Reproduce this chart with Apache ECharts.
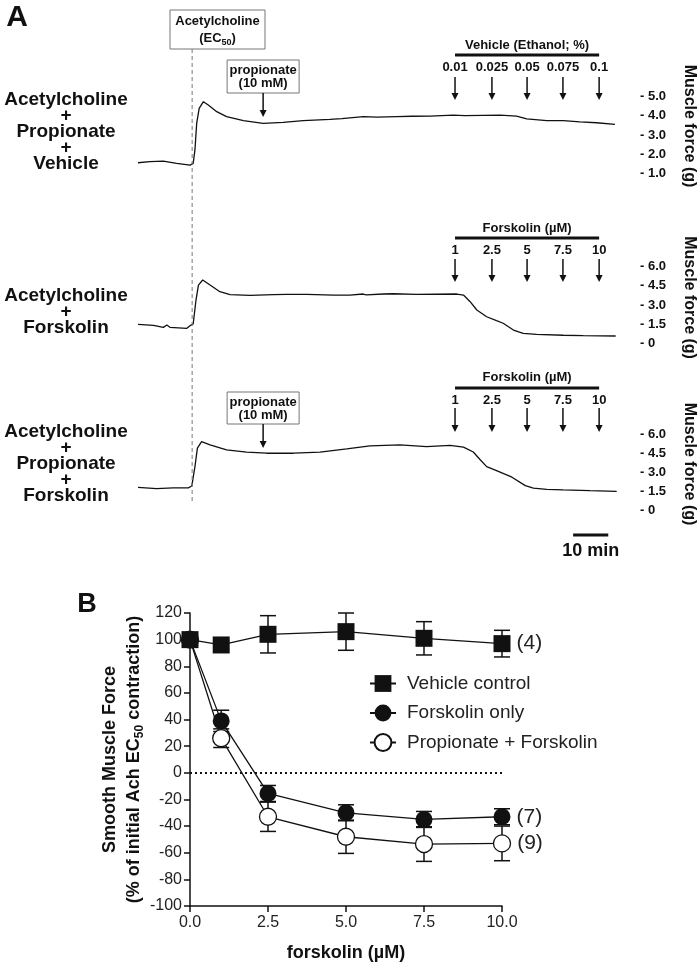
<!DOCTYPE html>
<html>
<head>
<meta charset="utf-8">
<script src="https://cdn.jsdelivr.net/npm/echarts@6/dist/echarts.min.js"></script>
<style>
  html, body { margin: 0; padding: 0; background: #fff; }
  #chart { width: 700px; height: 966px; }
</style>
</head>
<body>
<div id="chart"></div>
<script>
  // ---- panel A: force recordings, [time (min), force (g)] ----
  var vehicleTrace = [[0, 1.55], [3.4, 1.61], [7.2, 1.64], [11, 1.52], [14.8, 1.43], [15.7, 1.52], [16.2, 2.22],
    [16.7, 3.61], [17.4, 4.39], [18.6, 4.74], [20, 4.57], [22.4, 4.22], [25.2, 3.96], [30, 3.75], [35.6, 3.61],
    [41.3, 3.66], [47, 3.75], [54.6, 3.82], [58, 3.86], [64.1, 3.96], [68, 3.93], [73.6, 3.96], [78, 3.98],
    [83.1, 3.99], [89.7, 4.04], [93, 4.01], [98.2, 4.03], [103, 4.04], [107.7, 3.99], [110.6, 3.84],
    [116.3, 3.75], [121, 3.75], [125.7, 3.69], [130.5, 3.64], [135.7, 3.56]]
  var forskolinTrace = [[0, 1.49], [4.4, 1.41], [7.2, 1.25], [8.2, 1.43], [9.1, 1.25], [13.9, 1.17], [14.8, 1.38],
    [15.7, 1.51], [16.5, 3.39], [17.2, 4.56], [18.4, 4.96], [20.5, 4.56], [23.3, 4.04], [26.2, 3.81],
    [31.9, 3.76], [38.5, 3.81], [42.3, 3.84], [48, 3.84], [55.6, 3.78], [60.3, 3.78], [64, 3.86], [65, 3.8],
    [69.8, 3.86], [72.6, 3.88], [79.3, 3.84], [90.7, 3.86], [92.6, 3.78], [94.5, 3.26], [96.4, 2.61],
    [99.2, 2.08], [102, 1.77], [103.9, 1.57], [106.8, 1.04], [109.6, 0.78], [113.4, 0.7], [121, 0.63],
    [126.7, 0.6], [135.9, 0.57]]
  var propionateTrace = [[0, 1.8], [5.3, 1.69], [10, 1.75], [14.3, 1.75], [15.3, 1.9], [16.2, 3.44], [16.9, 4.9],
    [18.1, 5.42], [20.5, 5.16], [25.2, 4.76], [30.9, 4.58], [36.6, 4.5], [44.2, 4.5], [51.8, 4.58],
    [59.4, 4.84], [66, 5.08], [74.5, 5.16], [82.1, 5.02], [88.8, 5.13], [92.6, 4.98], [95.4, 4.6],
    [97.3, 4.0], [99.2, 3.44], [102, 3.12], [106.4, 2.6], [110.2, 1.93], [112.5, 1.74], [116.3, 1.64],
    [121, 1.59], [128.6, 1.53], [136.2, 1.48]]

  var achTime = 15.4
  var propionateTime = 35.6
  var doseTimes = [90.2, 100.7, 110.7, 120.9, 131.2]
  var vehicleDoseLabels = ['0.01', '0.025', '0.05', '0.075', '0.1']
  var forskolinDoseLabels = ['1', '2.5', '5', '7.5', '10']
  var scaleBarStart = 123.8 // 10 min bar

  // ---- panel B: % of initial Ach EC50 contraction ----
  var concentrations = [0, 1, 2.5, 5, 7.5, 10]
  var vehicleMean = [100, 96, 104, 106, 101, 97]
  var vehicleSem = [0, 3, 14, 14, 12.5, 10]
  var forskolinMean = [100, 39, -15.5, -30, -35, -33]
  var forskolinSem = [0, 8, 6, 6, 6, 6]
  var propForskMean = [100, 26, -33, -48, -53.5, -53]
  var propForskSem = [0, 7, 11, 12.5, 13, 13]

  var FONT = '"Liberation Sans", Arial, Helvetica, sans-serif'
  var INK = '#111'

  var chart = echarts.init(document.getElementById('chart'))

  function traceY(idx, min, max, interval) {
    return {
      gridIndex: idx, type: 'value', position: 'right', min: min, max: max, interval: interval,
      axisLine: {show: false}, axisTick: {show: false}, splitLine: {show: false},
      axisLabel: {
        margin: 24, fontSize: 13, fontWeight: 'bold', color: INK, fontFamily: FONT,
        formatter: function (v) { return v === 0 ? '- 0' : '- ' + v.toFixed(1) }
      }
    }
  }
  function traceX(idx) {
    return {gridIndex: idx, type: 'value', min: 0, max: 136, show: false}
  }
  function traceSeries(idx, data) {
    return {
      type: 'line', xAxisIndex: idx, yAxisIndex: idx, data: data, symbol: 'none',
      lineStyle: {color: INK, width: 1.3}, silent: true
    }
  }
  function pointData(means, label) {
    return concentrations.map(function (c, i) {
      var item = {value: [c, means[i]]}
      if (i === concentrations.length - 1) {
        item.label = {show: true, position: 'right', distance: 6, formatter: label,
          fontSize: 21, color: '#222', fontFamily: FONT}
      }
      return item
    })
  }

  var errData = []
  ;[[vehicleMean, vehicleSem], [forskolinMean, forskolinSem], [propForskMean, propForskSem]].forEach(function (s) {
    concentrations.forEach(function (c, i) {
      if (s[1][i] > 0) errData.push([c, s[0][i], s[1][i]])
    })
  })

  var option = {
    animation: false,
    backgroundColor: '#fff',
    grid: [
      {left: 138, right: 84, top: 96.7, height: 76.6},
      {left: 138, right: 84, top: 266.7, height: 76.6},
      {left: 138, right: 84, top: 434.3, height: 75.7},
      {left: 190, right: 198, top: 613, bottom: 60}
    ],
    xAxis: [traceX(0), traceX(1), traceX(2), {
      gridIndex: 3, type: 'value', min: 0, max: 10, interval: 2.5,
      axisLine: {onZero: false, lineStyle: {color: INK, width: 1.5}},
      axisTick: {length: 6, lineStyle: {color: INK, width: 1.5}},
      splitLine: {show: false},
      axisLabel: {fontSize: 16, color: '#222', margin: 9, fontFamily: FONT,
        formatter: function (v) { return v.toFixed(1) }},
      name: 'forskolin (µM)', nameLocation: 'middle', nameGap: 38,
      nameTextStyle: {fontSize: 18, fontWeight: 'bold', color: INK, fontFamily: FONT}
    }],
    yAxis: [traceY(0, 1, 5, 1), traceY(1, 0, 6, 1.5), traceY(2, 0, 6, 1.5), {
      gridIndex: 3, type: 'value', min: -100, max: 120, interval: 20,
      axisLine: {show: true, onZero: false, lineStyle: {color: INK, width: 1.5}},
      axisTick: {show: true, length: 6, lineStyle: {color: INK, width: 1.5}},
      splitLine: {show: false},
      axisLabel: {fontSize: 16, color: '#222', margin: 8, fontFamily: FONT},
      name: '{b|Smooth Muscle Force}\n{b|(% of initial Ach EC}{s|50}{b| contraction)}',
      nameLocation: 'middle', nameRotate: 90, nameGap: 40,
      nameTextStyle: {
        rich: {
          b: {fontSize: 18, fontWeight: 'bold', lineHeight: 24, color: INK, fontFamily: FONT},
          s: {fontSize: 12, fontWeight: 'bold', lineHeight: 24, verticalAlign: 'bottom', color: INK, fontFamily: FONT}
        }
      }
    }],
    legend: {
      data: ['Vehicle control', 'Forskolin only', 'Propionate + Forskolin'],
      orient: 'vertical', left: 364, top: 669, itemWidth: 26, itemHeight: 21, itemGap: 10.5,
      selectedMode: false,
      textStyle: {fontSize: 19, color: '#222', fontFamily: FONT, padding: [0, 0, 0, 6]}
    },
    series: [
      traceSeries(0, vehicleTrace),
      traceSeries(1, forskolinTrace),
      traceSeries(2, propionateTrace),
      {
        type: 'custom', xAxisIndex: 3, yAxisIndex: 3, data: errData, z: 1, silent: true,
        renderItem: function (params, api) {
          var x = api.value(0), m = api.value(1), e = api.value(2)
          var top = api.coord([x, m + e]), bot = api.coord([x, m - e])
          var st = {stroke: INK, lineWidth: 1.5}
          return {
            type: 'group', children: [
              {type: 'line', shape: {x1: top[0], y1: top[1], x2: bot[0], y2: bot[1]}, style: st},
              {type: 'line', shape: {x1: top[0] - 8, y1: top[1], x2: top[0] + 8, y2: top[1]}, style: st},
              {type: 'line', shape: {x1: bot[0] - 8, y1: bot[1], x2: bot[0] + 8, y2: bot[1]}, style: st}
            ]
          }
        }
      },
      {
        name: 'Forskolin only', type: 'line', xAxisIndex: 3, yAxisIndex: 3,
        data: pointData(forskolinMean, '(7)'), symbol: 'circle', symbolSize: 17,
        itemStyle: {color: INK}, lineStyle: {color: INK, width: 1.3}
      },
      {
        name: 'Propionate + Forskolin', type: 'line', xAxisIndex: 3, yAxisIndex: 3,
        data: pointData(propForskMean, '(9)'), symbol: 'circle', symbolSize: 17,
        itemStyle: {color: '#fff', borderColor: INK, borderWidth: 1.3}, lineStyle: {color: INK, width: 1.3}
      },
      {
        name: 'Vehicle control', type: 'line', xAxisIndex: 3, yAxisIndex: 3,
        data: pointData(vehicleMean, '(4)'), symbol: 'rect', symbolSize: 17,
        itemStyle: {color: INK}, lineStyle: {color: INK, width: 1.3},
        markLine: {
          silent: true, symbol: ['none', 'none'], label: {show: false},
          lineStyle: {type: [2, 3], color: INK, width: 2},
          data: [{yAxis: 0}]
        }
      }
    ]
  }

  chart.setOption(option)

  // ---- annotations for panel A ----
  function px(grid, t) { return chart.convertToPixel({gridIndex: grid}, [t, 0])[0] }
  function txt(text, x, y, size, extra) {
    var el = {
      type: 'text', x: x, y: y, z: 10,
      style: {text: text, fontSize: size, fontWeight: 'bold', fontFamily: FONT, fill: INK,
        align: 'center', verticalAlign: 'middle', textAlign: 'center', textVerticalAlign: 'middle'}
    }
    if (extra) {
      for (var k in extra.style || {}) el.style[k] = extra.style[k]
      if (extra.rotation) el.rotation = extra.rotation
    }
    return el
  }
  function line(x1, y1, x2, y2, w, extraStyle) {
    var st = {stroke: INK, lineWidth: w}
    for (var k in extraStyle || {}) st[k] = extraStyle[k]
    return {type: 'line', z: 10, shape: {x1: x1, y1: y1, x2: x2, y2: y2}, style: st}
  }
  function arrow(x, y1, y2) {
    return [
      line(x, y1, x, y2 - 5, 1.5),
      {type: 'polygon', z: 10, shape: {points: [[x - 3.5, y2 - 7], [x + 3.5, y2 - 7], [x, y2]]}, style: {fill: INK}}
    ]
  }

  var g = []
  var headers = [
    {grid: 0, title: 'Vehicle (Ethanol; %)', labels: vehicleDoseLabels, titleY: 45, barY: 55, labelY: 67, a1: 77, a2: 100},
    {grid: 1, title: 'Forskolin (µM)', labels: forskolinDoseLabels, titleY: 228, barY: 238, labelY: 250, a1: 259, a2: 282},
    {grid: 2, title: 'Forskolin (µM)', labels: forskolinDoseLabels, titleY: 377, barY: 388, labelY: 400, a1: 408, a2: 432}
  ]
  headers.forEach(function (h) {
    var xs = doseTimes.map(function (t) { return px(h.grid, t) })
    g.push(txt(h.title, (xs[0] + xs[xs.length - 1]) / 2, h.titleY, 13))
    g.push(line(xs[0], h.barY, xs[xs.length - 1], h.barY, 3))
    xs.forEach(function (x, i) {
      g.push(txt(h.labels[i], x, h.labelY, 13))
      g = g.concat(arrow(x, h.a1, h.a2))
    })
  })

  // acetylcholine box + dashed line
  var achX = px(0, achTime)
  g.push(line(achX, 49, achX, 502, 1, {stroke: '#777', lineDash: [4, 3]}))
  g.push({type: 'rect', z: 10, shape: {x: 170, y: 10, width: 95, height: 39}, style: {fill: '#fff', stroke: '#777', lineWidth: 1}})
  g.push({
    type: 'text', x: 217.5, y: 30, z: 11,
    style: {
      text: '{b|Acetylcholine}\n{b|(EC}{s|50}{b|)}', align: 'center', verticalAlign: 'middle',
      textAlign: 'center', textVerticalAlign: 'middle',
      rich: {
        b: {fontSize: 13, fontWeight: 'bold', fontFamily: FONT, fill: INK, lineHeight: 17},
        s: {fontSize: 9, fontWeight: 'bold', fontFamily: FONT, fill: INK, lineHeight: 17, verticalAlign: 'bottom'}
      }
    }
  })

  // propionate boxes
  ;[{grid: 0, top: 60, bottom: 93, tip: 117}, {grid: 2, top: 392, bottom: 424, tip: 448}].forEach(function (p) {
    var x = px(p.grid, propionateTime)
    g.push({type: 'rect', z: 10, shape: {x: x - 36, y: p.top, width: 72, height: p.bottom - p.top},
      style: {fill: '#fff', stroke: '#777', lineWidth: 1}})
    g.push(txt('propionate', x, p.top + 10, 13))
    g.push(txt('(10 mM)', x, p.top + 23, 13))
    g = g.concat(arrow(x, p.bottom, p.tip))
  })

  // scale bar
  var sb1 = px(2, scaleBarStart), sb2 = px(2, scaleBarStart + 10)
  g.push(line(sb1, 535, sb2, 535, 3))
  g.push(txt('10 min', (sb1 + sb2) / 2, 551, 18))

  // side labels
  var sideStyle = {style: {lineHeight: 16}}
  g.push(txt('Acetylcholine\n+\nPropionate\n+\nVehicle', 66, 131.5, 19, sideStyle))
  g.push(txt('Acetylcholine\n+\nForskolin', 66, 311.5, 19, sideStyle))
  g.push(txt('Acetylcholine\n+\nPropionate\n+\nForskolin', 66, 464, 19, sideStyle))
  ;[126, 297.6, 464].forEach(function (y) {
    g.push(txt('Muscle force (g)', 689, y, 16, {rotation: -Math.PI / 2}))
  })

  g.push(txt('A', 17, 18, 30))
  g.push(txt('B', 87, 605, 27))

  chart.setOption({graphic: {elements: g}})
</script>
</body>
</html>
